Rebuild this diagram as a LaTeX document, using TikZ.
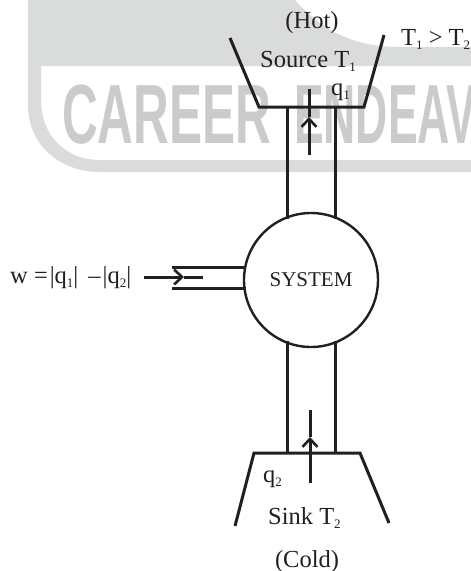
\documentclass[tikz,border=0pt]{standalone}
\usepackage{fontspec}
\setmainfont{Liberation Serif}
\newfontfamily\wmfont{Liberation Sans}
\usetikzlibrary{arrows.meta}
\definecolor{wmband}{HTML}{D9DCDB}
\definecolor{wmtext}{HTML}{C9CCCB}
\definecolor{ink}{HTML}{231F20}
\newcommand{\lowsub}[1]{\raisebox{-4pt}{\fontsize{13}{13}\selectfont #1}}
\tikzset{
  wall/.style={draw=ink,line width=3pt,line join=miter},
  flow/.style={draw=ink,line width=3pt,-{Straight Barb[length=8pt,width=15pt,line width=2.6pt]}},
  lbl/.style={inner sep=0pt,text=ink,anchor=base west,font=\fontsize{24.5}{24.5}\selectfont},
  lblc/.style={lbl,anchor=base},
  stem/.style={draw=ink,line width=3pt}
}
\begin{document}
\begin{tikzpicture}[x=1pt,y=-1pt]
\useasboundingbox (0,0) rectangle (471,571);
\fill[white] (0,0) rectangle (471,571);
% watermark
\begin{scope}
\clip (0,0) rectangle (471,571);
\fill[wmband,even odd rule] (28,0) -- (28,105) .. controls (28,145) and (60,172) .. (100,172) -- (471,172) -- (471,160) -- (100,160) .. controls (65,160) and (41,135) .. (41,100) -- (41,66) -- (471,66) -- (471,47) -- (400,47) .. controls (350,47) and (320,28) .. (295,0) -- cycle;
\node[inner sep=0pt,anchor=base west,text=wmtext] (wm) at (62,143)
  {\wmfont\bfseries\fontsize{84}{84}\selectfont\scalebox{0.589}[1]{CAREER}\hspace{23pt}\scalebox{0.53}[1]{ENDEAV}};
\end{scope}
% system
\node[circle,draw=ink,line width=2.4pt,minimum size=134pt,inner sep=0pt,font=\fontsize{21}{21}\selectfont,text=ink] (sys) at (311,280) {SYSTEM};
% source
\coordinate (sa) at (230,38);
\coordinate (sb) at (259,107);
\coordinate (sc) at (364,107);
\coordinate (sd) at (384,35);
\draw[wall] (sa) -- (sb) -- (sc) -- (sd);
% sink
\coordinate (ka) at (235,526);
\coordinate (kb) at (254,453);
\coordinate (kc) at (360,453);
\coordinate (kd) at (389,523);
\draw[wall] (ka) -- (kb) -- (kc) -- (kd);
% pipes
\coordinate (p1t) at (287,107);
\coordinate (p2t) at (335,107);
\coordinate (p1b) at (287,453);
\coordinate (p2b) at (335,453);
\draw[wall] (p1t) -- (287,219);
\draw[wall] (p2t) -- (335,219);
\draw[wall] (287,341) -- (p1b);
\draw[wall] (335,341) -- (p2b);
\draw[wall] (172,267) -- (246,267);
\draw[wall] (172,288) -- (246,288);
% arrows
\coordinate (a1s) at (309,155);
\coordinate (a1m) at (309,117);
\coordinate (a1e) at (309,89);
\draw[flow] (a1s) -- (a1m);
\draw[stem] (a1m) -- (a1e);
\coordinate (a2s) at (310,483);
\coordinate (a2m) at (310,437);
\coordinate (a2e) at (310,410);
\draw[flow] (a2s) -- (a2m);
\draw[stem] (a2m) -- (a2e);
\coordinate (a3s) at (144,277);
\coordinate (a3m) at (184,277);
\coordinate (a3e) at (203,277);
\draw[flow] (a3s) -- (a3m);
\draw[stem] (a3m) -- (a3e);
% labels
\node[lblc] (hot) at (312,28) {(Hot)};
\node[lbl] (src) at (260,67) {Source T\lowsub{1}};
\node[lbl] (q1) at (331,95) {q\lowsub{1}};
\node[lbl] (cmp) at (401,45) {T\lowsub{1} > T\lowsub{2}};
\node[lbl] (work) at (10,283) {w =\kern2pt|q\lowsub{1}|\kern10pt–\kern2pt|q\lowsub{2}|};
\node[lbl] (q2) at (263,482) {q\lowsub{2}};
\node[lbl] (snk) at (268,524) {Sink T\lowsub{2}};
\node[lblc] (cold) at (307,567) {(Cold)};
\end{tikzpicture}
\end{document}
